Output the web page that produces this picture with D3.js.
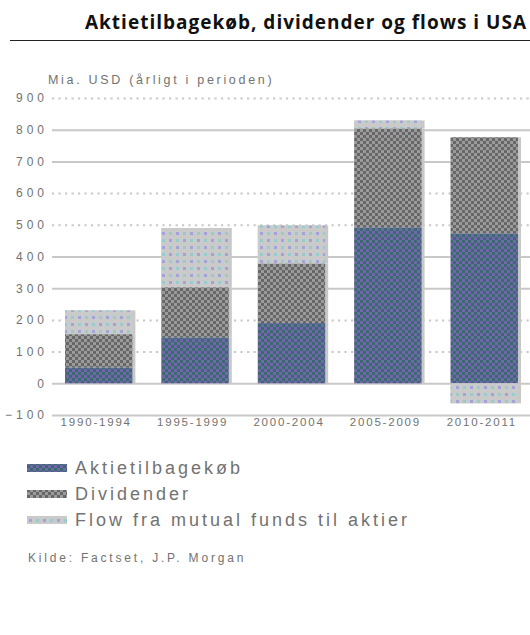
<!DOCTYPE html>
<html>
<head>
<meta charset="utf-8">
<script src="https://cdn.jsdelivr.net/npm/d3@7"></script>
<style>
  html, body { margin: 0; padding: 0; background: #fff; }
  svg { display: block; }
</style>
</head>
<body>
<div id="chart"></div>
<script>
// ---- data ----
const categories = ["1990-1994", "1995-1999", "2000-2004", "2005-2009", "2010-2011"];
const buybacks   = [50, 145, 190, 492, 473];
const dividends  = [105, 158, 188, 312, 303];
const flows      = [75, 187, 120, 25, -63];
const seriesNames = ["Aktietilbagekøb", "Dividender", "Flow fra mutual funds til aktier"];
const yTicks = [-100, 0, 100, 200, 300, 400, 500, 600, 700, 800, 900];
const titleText = "Aktietilbagekøb, dividender og flows i USA";
const subtitleText = "Mia. USD (årligt i perioden)";
const sourceText = "Kilde: Factset, J.P. Morgan";

const W = 530, H = 635;
const svg = d3.select("#chart").append("svg").attr("width", W).attr("height", H);

// ---- patterns ----
const defs = svg.append("defs");
function checker(id, bg, fg, c) {
  const p = defs.append("pattern").attr("id", id).attr("patternUnits", "userSpaceOnUse")
    .attr("width", 2 * c).attr("height", 2 * c);
  p.append("rect").attr("width", 2 * c).attr("height", 2 * c).attr("fill", bg);
  p.append("rect").attr("x", 0).attr("y", 0).attr("width", c).attr("height", c).attr("fill", fg);
  p.append("rect").attr("x", c).attr("y", c).attr("width", c).attr("height", c).attr("fill", fg);
  return p;
}
checker("pBuy", "#7167ab", "#3a6a70", 3);
checker("pDiv", "#9b9b9b", "#676767", 3);
const pf = defs.append("pattern").attr("id", "pFlow").attr("patternUnits", "userSpaceOnUse")
  .attr("width", 14).attr("height", 14);
pf.append("rect").attr("width", 14).attr("height", 14).attr("fill", "#cacaca");
pf.append("rect").attr("x", 1).attr("y", 1).attr("width", 3).attr("height", 3).attr("fill", "#a3a3dc");
pf.append("rect").attr("x", 8).attr("y", 1).attr("width", 3).attr("height", 3).attr("fill", "#97cccc");
pf.append("rect").attr("x", 1).attr("y", 8).attr("width", 3).attr("height", 3).attr("fill", "#97cccc");
pf.append("rect").attr("x", 8).attr("y", 8).attr("width", 3).attr("height", 3).attr("fill", "#a3a3dc");
const fills = ["url(#pBuy)", "url(#pDiv)", "url(#pFlow)"];

// ---- title ----
svg.append("text").attr("x", 527).attr("y", 29).attr("text-anchor", "end")
  .attr("font-family", "'Open Sans', 'DejaVu Sans', sans-serif").attr("font-weight", 700)
  .attr("font-size", 19).attr("letter-spacing", 1).attr("fill", "#111").text(titleText);
svg.append("line").attr("x1", 10).attr("x2", 530).attr("y1", 40.5).attr("y2", 40.5)
  .attr("stroke", "#222").attr("stroke-width", 1.2);

// ---- scales ----
const x = d3.scaleBand().domain(categories).range([52, 534]).paddingInner(0.27).paddingOuter(0.135);
const y = d3.scaleLinear().domain([-100, 900]).range([415, 98]);

const lblFont = "'Liberation Sans', Arial, sans-serif";
const grey = "#727272";

svg.append("text").attr("x", 48).attr("y", 84).attr("font-family", lblFont)
  .attr("font-size", 12.5).attr("letter-spacing", 2.7).attr("fill", grey).text(subtitleText);

// gridlines
const solidTicks = new Set([800, 700, 400, 300, 0, -100]);
const yAxis = d3.axisLeft(y).tickValues(yTicks).tickSize(0).tickPadding(4).tickFormat(d3.format("d"));
const gy = svg.append("g").attr("transform", "translate(52,0)").call(yAxis);
gy.select(".domain").remove();
gy.selectAll(".tick text").attr("font-family", lblFont).attr("font-size", 12)
  .attr("letter-spacing", 4).attr("fill", grey);
gy.selectAll(".tick").append("line").attr("x1", 0).attr("x2", W - 52)
  .attr("stroke", "#c8c8c8").attr("stroke-width", 2)
  .attr("stroke-dasharray", d => solidTicks.has(d) ? null : "2.2,4.3");

// ---- stacked bars ----
const rows = categories.map((c, i) => ({ cat: c, vals: [buybacks[i], dividends[i], flows[i]] }));
const segs = [];
rows.forEach(r => {
  let pos = 0, neg = 0;
  r.vals.forEach((v, k) => {
    let y0, y1;
    if (v >= 0) { y0 = pos; y1 = pos + v; pos = y1; }
    else { y0 = neg + v; y1 = neg; neg = y0; }
    segs.push({ cat: r.cat, k, y0, y1 });
  });
});
const gb = svg.append("g");
gb.selectAll("rect.sh").data(segs).join("rect").attr("class", "sh")
  .attr("x", d => x(d.cat)).attr("width", x.bandwidth())
  .attr("y", d => y(d.y1)).attr("height", d => y(d.y0) - y(d.y1))
  .attr("fill", "#c8c8c8");
gb.selectAll("rect.seg").data(segs).join("rect").attr("class", "seg")
  .attr("x", d => x(d.cat)).attr("width", x.bandwidth() - 3)
  .attr("y", d => y(d.y1)).attr("height", d => y(d.y0) - y(d.y1))
  .attr("fill", d => fills[d.k]);

// ---- x axis labels ----
const xAxis = d3.axisBottom(x).tickSize(0).tickPadding(0);
const gx = svg.append("g").attr("transform", "translate(-4,416)").call(xAxis);
gx.select(".domain").remove();
gx.selectAll(".tick text").attr("font-family", lblFont).attr("font-size", 11.5)
  .attr("letter-spacing", 1.8).attr("fill", grey).attr("dy", "0.9em");

// ---- legend ----
const lg = svg.append("g");
const ly = [468, 494, 520];
seriesNames.forEach((n, i) => {
  lg.append("rect").attr("x", 27).attr("y", ly[i] - 4).attr("width", 40).attr("height", 8).attr("fill", fills[i]);
  lg.append("text").attr("x", 75).attr("y", ly[i]).attr("dy", "0.36em")
    .attr("font-family", lblFont).attr("font-size", 18).attr("letter-spacing", 3)
    .attr("fill", grey).text(n);
});
svg.append("text").attr("x", 28).attr("y", 562).attr("font-family", lblFont)
  .attr("font-size", 12).attr("letter-spacing", 2.8).attr("fill", grey).text(sourceText);
</script>
</body>
</html>
